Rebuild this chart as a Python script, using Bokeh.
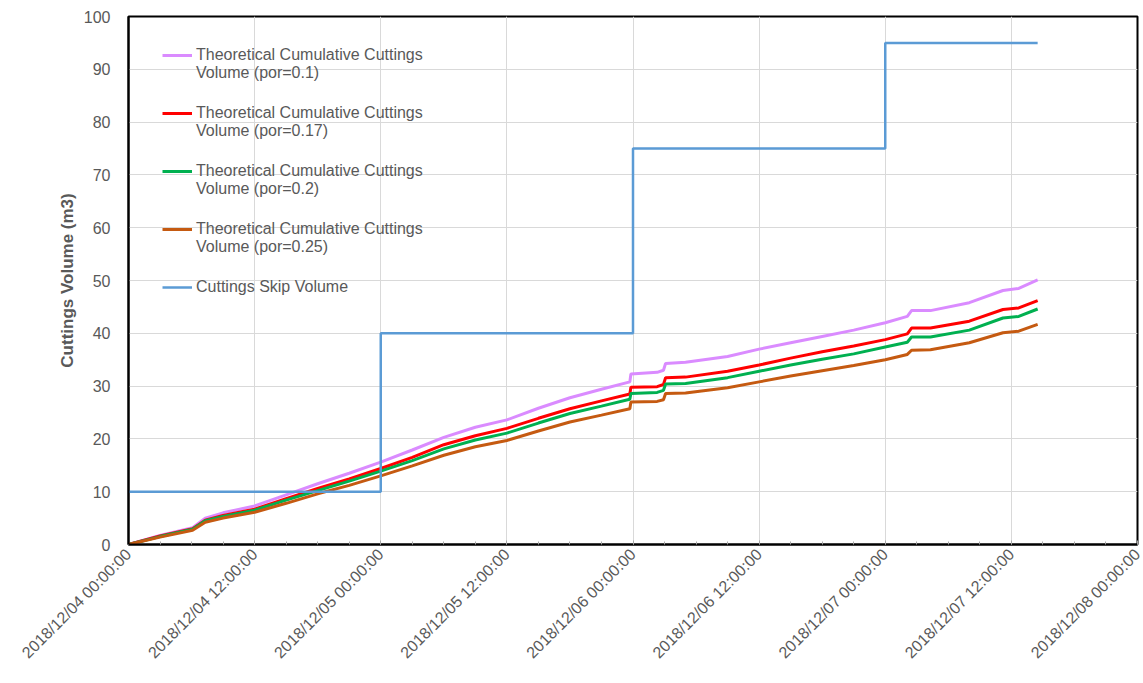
from math import pi

import pandas as pd
from bokeh.plotting import figure
from bokeh.models import (FixedTicker, DatetimeTickFormatter, Legend, LegendItem,
                          Range1d)
from bokeh.embed import file_html
from bokeh.resources import INLINE

# ---------------- data ----------------
START = "2018-12-04 00:00:00"
END = "2018-12-08 00:00:00"

# hours elapsed since START
hours = [0, 3, 6.1, 7.3, 9, 12, 15, 18, 21, 24, 27, 30, 33, 36, 39, 42, 45,
         47.7, 47.8, 50.3, 50.9, 51.1, 53, 57, 60, 63, 66, 69, 72, 74.1, 74.5,
         76.3, 80, 83.2, 84.7, 86.5]

vol_por_010 = [0, 1.7, 3.2, 5.0, 6.0, 7.3, 9.4, 11.5, 13.5, 15.6, 17.9, 20.3,
               22.2, 23.6, 25.8, 27.8, 29.4, 30.8, 32.3, 32.6, 33.0, 34.3, 34.5,
               35.6, 37.0, 38.2, 39.4, 40.6, 42.0, 43.2, 44.3, 44.3, 45.8, 48.1,
               48.5, 50.1]
vol_por_017 = [0, 1.6, 3.0, 4.6, 5.5, 6.7, 8.7, 10.6, 12.4, 14.4, 16.5, 18.9,
               20.6, 22.0, 23.9, 25.7, 27.2, 28.5, 29.8, 29.9, 30.3, 31.6, 31.7,
               32.8, 34.0, 35.3, 36.5, 37.6, 38.8, 39.9, 41.0, 41.0, 42.3, 44.5,
               44.8, 46.2]
vol_por_020 = [0, 1.5, 2.9, 4.5, 5.3, 6.5, 8.4, 10.2, 12.0, 13.9, 15.9, 18.1,
               19.8, 21.1, 23.0, 24.8, 26.2, 27.5, 28.6, 28.8, 29.2, 30.4, 30.5,
               31.6, 32.8, 34.0, 35.1, 36.1, 37.4, 38.3, 39.3, 39.3, 40.6, 42.9,
               43.2, 44.6]
vol_por_025 = [0, 1.4, 2.7, 4.2, 5.0, 6.1, 7.8, 9.6, 11.2, 13.0, 14.9, 16.9,
               18.5, 19.7, 21.5, 23.2, 24.5, 25.7, 27.0, 27.1, 27.4, 28.6, 28.7,
               29.7, 30.8, 31.9, 32.9, 33.9, 35.0, 36.0, 36.8, 36.9, 38.2, 40.1,
               40.4, 41.7]

skip_hours = [0, 24, 48, 72, 86.5]
skip_volume = [10, 40, 75, 95, 95]

series_labels = [
    "Theoretical Cumulative Cuttings\nVolume (por=0.1)",
    "Theoretical Cumulative Cuttings\nVolume (por=0.17)",
    "Theoretical Cumulative Cuttings\nVolume (por=0.2)",
    "Theoretical Cumulative Cuttings\nVolume (por=0.25)",
    "Cuttings Skip Volume",
]
series_colors = ["#DA8BFF", "#FF0000", "#00B050", "#C55A11", "#5B9BD5"]

y_ticks = [0, 10, 20, 30, 40, 50, 60, 70, 80, 90, 100]

# ---------------- build ----------------
t0 = pd.Timestamp(START)
t1 = pd.Timestamp(END)
x = t0 + pd.to_timedelta(hours, unit="h")
x_skip = t0 + pd.to_timedelta(skip_hours, unit="h")

ms0 = t0.value // 10**6
ms1 = t1.value // 10**6
H = 3600 * 1000
major = list(range(ms0, ms1 + 1, 12 * H))
minor = list(range(ms0, ms1 + 1, 3 * H))

FONT = "Liberation Sans"
GREY = "#595959"

p = figure(x_axis_type="datetime", output_backend="svg", toolbar_location=None,
           frame_width=1009, frame_height=528,
           min_border_left=128, min_border_right=6, min_border_top=16,
           min_border_bottom=139,
           x_range=Range1d(ms0, ms1), y_range=Range1d(0, 100))

p.background_fill_color = "white"
p.border_fill_color = "white"
p.outline_line_color = "black"
p.outline_line_width = 2

fmt = "%Y/%m/%d %H:%M:%S"
p.xaxis.ticker = FixedTicker(ticks=major, minor_ticks=minor)
p.xaxis.formatter = DatetimeTickFormatter(
    milliseconds=fmt, seconds=fmt, minsec=fmt, minutes=fmt, hourmin=fmt,
    hours=fmt, days=fmt, months=fmt, years=fmt)
p.xaxis.major_label_orientation = pi / 4
p.yaxis.ticker = FixedTicker(ticks=y_ticks)

for ax in (p.xaxis[0], p.yaxis[0]):
    ax.axis_line_color = "black"
    ax.axis_line_width = 2
    ax.major_label_text_font = FONT
    ax.major_label_text_color = GREY
    ax.major_label_text_font_size = "16px"

p.xaxis.major_tick_in = 4
p.xaxis.major_tick_out = 0
p.xaxis.minor_tick_in = 3
p.xaxis.minor_tick_out = 0
p.xaxis.major_tick_line_color = "#A6A6A6"
p.xaxis.minor_tick_line_color = "#A6A6A6"
p.xaxis.major_label_standoff = 7

p.yaxis.major_tick_line_color = None
p.yaxis.minor_tick_line_color = None
p.yaxis.major_label_standoff = 12
p.yaxis.axis_label = "Cuttings Volume (m3)"
p.yaxis.axis_label_text_font = FONT
p.yaxis.axis_label_text_font_style = "bold"
p.yaxis.axis_label_text_font_size = "17px"
p.yaxis.axis_label_text_color = GREY
p.yaxis.axis_label_standoff = 4

p.xgrid.ticker = FixedTicker(ticks=major)
p.xgrid.grid_line_color = "#D9D9D9"
p.ygrid.grid_line_color = "#D9D9D9"
p.xgrid.grid_line_width = 1
p.ygrid.grid_line_width = 1

renderers = []
for vals, col in zip([vol_por_010, vol_por_017, vol_por_020, vol_por_025],
                     series_colors[:4]):
    r = p.line(x, vals, line_color=col, line_width=3)
    renderers.append(r)
r_skip = p.step(x_skip, skip_volume, mode="after", line_color=series_colors[4],
                line_width=2.5)
renderers.append(r_skip)

# The legend glyph is centred on its label; pad each label with a blank
# line so that the glyph sits level with the label's first line.
def _pad(label):
    n = label.count("\n") + 1
    return " \n" + label if n == 2 else " \n" + label + "\n "

legend = Legend(items=[LegendItem(label=_pad(lab), renderers=[r])
                       for lab, r in zip(series_labels, renderers)],
                location=(34, 230), orientation="vertical")
legend.label_text_font = FONT
legend.label_text_font_size = "16px"
legend.label_text_color = GREY
legend.label_text_line_height = 1.2
legend.glyph_width = 30
legend.glyph_height = 16
legend.spacing = 4
legend.border_line_color = None
legend.background_fill_alpha = 0
legend.padding = 6
legend.label_standoff = 4
p.add_layout(legend, "center")

open("out.html", "w").write(file_html(p, INLINE))
